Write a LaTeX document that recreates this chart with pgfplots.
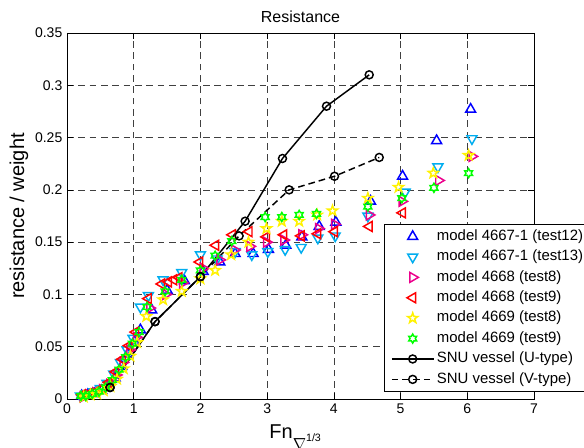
\documentclass[border=0pt]{standalone}
\usepackage{pgfplots}
\pgfplotsset{compat=1.18}
\usepackage{fontspec}
\setmainfont{Liberation Sans}
\usetikzlibrary{plotmarks}

\pgfdeclareplotmark{pentagram}{%
  \pgfpathmoveto{\pgfpointpolar{90}{\pgfplotmarksize}}%
  \pgfpathlineto{\pgfpointpolar{126}{0.40\pgfplotmarksize}}%
  \pgfpathlineto{\pgfpointpolar{162}{\pgfplotmarksize}}%
  \pgfpathlineto{\pgfpointpolar{198}{0.40\pgfplotmarksize}}%
  \pgfpathlineto{\pgfpointpolar{234}{\pgfplotmarksize}}%
  \pgfpathlineto{\pgfpointpolar{270}{0.40\pgfplotmarksize}}%
  \pgfpathlineto{\pgfpointpolar{306}{\pgfplotmarksize}}%
  \pgfpathlineto{\pgfpointpolar{342}{0.40\pgfplotmarksize}}%
  \pgfpathlineto{\pgfpointpolar{18}{\pgfplotmarksize}}%
  \pgfpathlineto{\pgfpointpolar{54}{0.40\pgfplotmarksize}}%
  \pgfpathclose
  \pgfusepathqstroke
}
\pgfdeclareplotmark{hexagram}{%
  \pgfpathmoveto{\pgfpointpolar{90}{\pgfplotmarksize}}%
  \pgfpathlineto{\pgfpointpolar{120}{0.577\pgfplotmarksize}}%
  \pgfpathlineto{\pgfpointpolar{150}{\pgfplotmarksize}}%
  \pgfpathlineto{\pgfpointpolar{180}{0.577\pgfplotmarksize}}%
  \pgfpathlineto{\pgfpointpolar{210}{\pgfplotmarksize}}%
  \pgfpathlineto{\pgfpointpolar{240}{0.577\pgfplotmarksize}}%
  \pgfpathlineto{\pgfpointpolar{270}{\pgfplotmarksize}}%
  \pgfpathlineto{\pgfpointpolar{300}{0.577\pgfplotmarksize}}%
  \pgfpathlineto{\pgfpointpolar{330}{\pgfplotmarksize}}%
  \pgfpathlineto{\pgfpointpolar{0}{0.577\pgfplotmarksize}}%
  \pgfpathlineto{\pgfpointpolar{30}{\pgfplotmarksize}}%
  \pgfpathlineto{\pgfpointpolar{60}{0.577\pgfplotmarksize}}%
  \pgfpathclose
  \pgfusepathqstroke
}

\begin{document}
\begin{tikzpicture}
\begin{axis}[
  scale only axis,
  width=350.25pt, height=274.5pt,
  xmin=0, xmax=7, ymin=0, ymax=0.35,
  xtick={0,1,2,3,4,5,6,7},
  xticklabels={0,1,2,3,4,5,6,7},
  ytick={0,0.05,0.1,0.15,0.2,0.25,0.3,0.35},
  yticklabels={0,0.05,0.1,0.15,0.2,0.25,0.3,0.35},
  tick label style={font=\fontsize{10.5}{12}\selectfont},
  tick align=inside,
  xtick pos=both, ytick pos=both,
  major tick length=4.5pt,
  tick style={black, line width=0.5pt},
  axis line style={black, line width=0.5pt},
  grid=major,
  major grid style={black!75, line width=0.4pt, dash pattern=on 5pt off 3.5pt},
  every axis title shift=0pt,
  title={Resistance},
  title style={font=\fontsize{12}{14}\selectfont, at={(axis description cs:0.5,1.03)}, anchor=base},
  xlabel={Fn\raisebox{-1.1ex}{\fontsize{13}{14}\selectfont$\nabla$}\raisebox{-0.35ex}{\fontsize{8}{9}\selectfont 1/3}},
  xlabel style={font=\fontsize{15}{17}\selectfont, at={(axis description cs:0.4886,-0.1066)}, anchor=base},
  ylabel={resistance / weight},
  ylabel style={font=\fontsize{15}{17}\selectfont, at={(axis description cs:-0.1028,0.5)}, anchor=center},
  legend cell align=left,
  legend style={at={(axis description cs:0.679,0.019)}, anchor=south west,
    draw=black, line width=0.5pt, fill=white,
    font=\fontsize{11.2}{13}\selectfont,
    inner xsep=5pt, inner ysep=2pt, row sep=0.8pt,
    nodes={inner sep=2pt, text height=8pt, text depth=2.5pt}},
  legend image code/.code={\draw[mark repeat=2,mark phase=2] plot coordinates {(0cm,0cm) (0.55cm,0cm) (1.1cm,0cm)};},
]
\addplot[only marks, mark=triangle, mark size=4.3pt, draw=blue, line width=1.1pt] coordinates {
(0.22,0.003) (0.31,0.004) (0.41,0.005) (0.52,0.008) (0.62,0.013) (0.72,0.020) (0.82,0.031) (0.91,0.043) (1.01,0.055) (1.10,0.066)
(1.27,0.085) (1.50,0.104) (1.76,0.113) (2.04,0.122) (2.29,0.131) (2.52,0.139) (2.79,0.139) (3.02,0.143) (3.28,0.147) (3.52,0.155)
(3.78,0.165) (4.03,0.169) (4.55,0.189) (5.03,0.213) (5.54,0.247) (6.05,0.277)};
\addlegendentry{model 4667-1 (test12)}
\addplot[only marks, mark=triangle, mark size=4.3pt, mark options={rotate=180}, draw=cyan, line width=1.1pt] coordinates {
(0.20,0.003) (0.30,0.005) (0.40,0.007) (0.50,0.010) (0.60,0.015) (0.70,0.024) (0.80,0.035) (0.90,0.047) (0.99,0.058) (1.10,0.088)
(1.22,0.099) (1.44,0.114) (1.72,0.121) (2.00,0.138) (2.25,0.134) (2.52,0.141) (2.77,0.138) (3.01,0.141) (3.27,0.143) (3.51,0.145)
(3.76,0.154) (4.02,0.156) (4.51,0.175) (5.07,0.198) (5.56,0.222) (6.07,0.249)};
\addlegendentry{model 4667-1 (test13)}
\addplot[only marks, mark=triangle, mark size=4.3pt, mark options={rotate=-90}, draw=magenta, line width=1.1pt] coordinates {
(0.24,0.002) (0.33,0.004) (0.43,0.006) (0.53,0.009) (0.64,0.014) (0.74,0.023) (0.84,0.035) (0.94,0.047) (1.04,0.059) (1.24,0.087)
(1.48,0.100) (1.73,0.111) (2.04,0.125) (2.29,0.133) (2.51,0.1425) (2.74,0.146) (2.99,0.150) (3.25,0.152) (3.52,0.157) (3.77,0.163)
(4.01,0.167) (4.53,0.176) (5.02,0.189) (5.57,0.209) (6.07,0.232)};
\addlegendentry{model 4668 (test8)}
\addplot[only marks, mark=triangle, mark size=4.3pt, mark options={rotate=90}, draw=red, line width=1.1pt] coordinates {
(0.23,0.004) (0.33,0.005) (0.43,0.007) (0.53,0.010) (0.63,0.016) (0.73,0.026) (0.83,0.038) (0.93,0.051) (1.03,0.064) (1.22,0.096)
(1.42,0.110) (1.52,0.112) (1.60,0.114) (1.68,0.116) (1.99,0.131) (2.23,0.147) (2.48,0.157) (2.73,0.160) (2.99,0.155) (3.25,0.157)
(3.51,0.156) (3.76,0.158) (4.01,0.160) (4.53,0.165) (5.03,0.178)};
\addlegendentry{model 4668 (test9)}
\addplot[only marks, mark=pentagram, mark size=4pt, draw=yellow, line width=1.1pt] coordinates {
(0.25,0.002) (0.35,0.004) (0.45,0.005) (0.55,0.008) (0.65,0.012) (0.75,0.019) (0.85,0.029) (0.95,0.041) (1.05,0.054) (1.19,0.079)
(1.44,0.095) (1.72,0.103) (2.00,0.115) (2.22,0.123) (2.46,0.138) (2.72,0.150) (2.99,0.163) (3.22,0.170) (3.48,0.170) (3.75,0.176)
(3.98,0.180) (4.51,0.192) (4.97,0.2025) (5.49,0.216) (6.02,0.233)};
\addlegendentry{model 4669 (test8)}
\addplot[only marks, mark=hexagram, mark size=3.4pt, draw=green, line width=1.1pt] coordinates {
(0.21,0.003) (0.28,0.003) (0.38,0.005) (0.48,0.007) (0.58,0.011) (0.68,0.018) (0.78,0.028) (0.88,0.040) (0.98,0.053) (1.08,0.064)
(1.20,0.088) (1.47,0.103) (1.72,0.114) (2.00,0.123) (2.22,0.137) (2.47,0.151) (2.97,0.174) (3.22,0.174) (3.48,0.176) (3.74,0.177)
(4.51,0.184) (5.02,0.192) (5.50,0.202) (6.02,0.216)};
\addlegendentry{model 4669 (test9)}
\addplot[black, line width=1.1pt, mark=o, mark size=3pt, mark options={solid}] coordinates {
(0.645,0.011) (1.32,0.074) (2.0,0.117) (2.67,0.170) (3.23,0.230) (3.89,0.280) (4.53,0.310)};
\addlegendentry{SNU vessel (U-type)}
\addplot[black, line width=1.1pt, dash pattern=on 5pt off 3pt, mark=o, mark size=3pt, mark options={solid}] coordinates {
(0.645,0.011) (1.32,0.074) (2.0,0.117) (2.58,0.156) (3.33,0.200) (4.01,0.213) (4.68,0.231)};
\addlegendentry{SNU vessel (V-type)}
\end{axis}
\pgfresetboundingbox
\path[use as bounding box] (current axis.south west) ++(-50.25pt,-36.75pt) rectangle ++(438pt,336pt);
\end{tikzpicture}
\end{document}
